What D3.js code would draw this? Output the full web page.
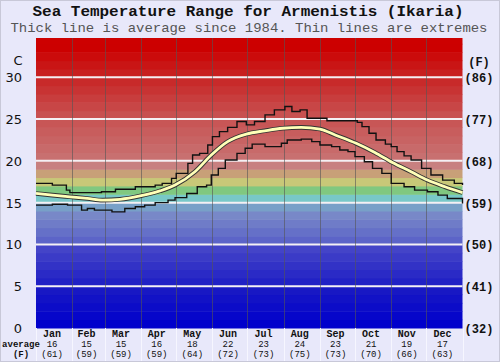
<!DOCTYPE html>
<html>
<head>
<meta charset="utf-8">
<script src="https://cdn.jsdelivr.net/npm/d3@7"></script>
<style>
  body { margin: 0; background: #e8e8fa; }
  svg { display: block; }
</style>
</head>
<body>
<svg id="chart" width="500" height="362"></svg>
<script>
// month info
const months = ["Jan","Feb","Mar","Apr","May","Jun","Jul","Aug","Sep","Oct","Nov","Dec"];
const monthStarts = [0,31,59,90,120,151,181,212,243,273,304,334,365];
const monthAvgC = [16,15,15,16,18,22,23,24,23,21,19,17];
const monthAvgF = [61,59,59,59,64,72,73,75,73,70,66,63];

// y ticks
const cTicks = [0,5,10,15,20,25,30];
const fTicks = [32,41,50,59,68,77,86];

// average since 1984 (day of year, deg C)
const avgDays = [0,14,29,44,57,72,89,106,119,136,150,164,180,196,211,227,243,256,274,290,305,321,335,350,365];
const avgTemps = [16.1,15.9,15.7,15.5,15.3,15.4,15.8,16.4,17.1,18.7,20.7,22.3,23.2,23.6,23.9,24.0,23.8,23.1,22.1,21.0,19.8,18.7,17.7,16.9,16.2];

// highest recorded
const maxDays = [0,14,26,29,56,68,85,102,108,116,120,130,134,140,147,151,157,164,172,180,187,196,204,213,219,226,232,249,275,279,285,291,299,304,309,315,321,330,338,348,358,365];
const maxTemps = [17.3,17.1,16.5,16.2,16.3,16.6,16.9,17.1,17.3,17.9,18.5,19.7,20.7,20.9,21.9,22.9,23.5,24.0,24.7,24.3,24.7,25.5,26.1,26.5,25.9,26.1,25.1,24.8,24.6,24.1,23.3,22.5,22.0,21.7,21.1,20.6,20.1,19.1,18.3,17.7,17.3,17.1];

// lowest recorded
const minDays = [0,14,27,39,44,50,65,76,85,93,102,113,119,129,138,146,150,156,162,172,179,185,196,210,215,227,236,243,253,260,267,273,281,288,296,304,315,324,335,344,352,365];
const minTemps = [14.7,14.8,14.7,14.1,14.3,14.1,13.9,14.3,14.5,14.7,15.0,15.3,15.6,16.1,16.9,17.1,18.3,19.1,20.1,20.9,21.5,22.0,21.7,22.1,22.5,22.6,22.3,21.9,21.7,21.3,21.1,20.5,19.9,19.1,18.5,17.3,16.9,16.5,16.3,15.9,15.5,14.9];

const svg = d3.select("#chart");
const W = 500, H = 362;
const plot = { left: 36, right: 462.5, top: 38, bottom: 328 };

const x = d3.scaleLinear().domain([0, 365]).range([plot.left, plot.right]);
const y = d3.scaleLinear().domain([0, 34.7]).range([plot.bottom, plot.top]);

const bandColor = d3.scaleLinear()
  .domain([0, 4, 9, 10, 13, 14, 15, 16, 17, 18, 19, 20, 25, 30, 33])
  .range(["#0000cc","#1818c4","#4444c8","#5c64c8","#7888c8","#78a0c8","#78c8c8","#80c880",
          "#c8c878","#c8a078","#c88080","#c87070","#c85050","#c82020","#cc0000"]);

svg.append("rect").attr("width", W).attr("height", H).attr("fill", "#e8e8fa");

// one degree colour bands
svg.append("g")
  .selectAll("rect")
  .data(d3.range(0, 35))
  .join("rect")
  .attr("x", plot.left)
  .attr("width", plot.right - plot.left)
  .attr("y", d => y(Math.min(d + 1, 34.7)))
  .attr("height", d => y(d) - y(Math.min(d + 1, 34.7)) + 0.5)
  .attr("fill", d => bandColor(d));

// white lines every 5 degrees
svg.append("g")
  .selectAll("line")
  .data(cTicks.filter(d => d > 0))
  .join("line")
  .attr("x1", plot.left).attr("x2", plot.right)
  .attr("y1", d => y(d)).attr("y2", d => y(d))
  .attr("stroke", "#f4f0f4")
  .attr("stroke-width", 2);

// month separators
svg.append("g")
  .selectAll("line")
  .data(monthStarts.slice(1, 12))
  .join("line")
  .attr("x1", d => Math.round(x(d)) + 0.5).attr("x2", d => Math.round(x(d)) + 0.5)
  .attr("y1", plot.top).attr("y2", plot.bottom)
  .attr("stroke", "#555")
  .attr("stroke-opacity", 0.6)
  .attr("stroke-width", 1);

// faint separators under the plot
svg.append("g")
  .selectAll("line")
  .data(monthStarts)
  .join("line")
  .attr("x1", d => Math.round(x(d)) + 0.5).attr("x2", d => Math.round(x(d)) + 0.5)
  .attr("y1", plot.bottom).attr("y2", H)
  .attr("stroke", "#f6f6ff")
  .attr("stroke-width", 1);

const stepLine = d3.line()
  .x(d => x(d[0]))
  .y(d => y(d[1]))
  .curve(d3.curveStepAfter);

const smoothLine = d3.line()
  .x(d => x(d[0]))
  .y(d => y(d[1]))
  .curve(d3.curveMonotoneX);

const maxPts = d3.zip(maxDays, maxTemps);
const minPts = d3.zip(minDays, minTemps);
const avgPts = d3.zip(avgDays, avgTemps);

[maxPts, minPts].forEach(pts => {
  svg.append("path")
    .attr("d", stepLine(pts))
    .attr("fill", "none")
    .attr("stroke", "#111")
    .attr("stroke-width", 1.4);
});

svg.append("path")
  .attr("d", smoothLine(avgPts))
  .attr("fill", "none")
  .attr("stroke", "#333")
  .attr("stroke-width", 4.6);

svg.append("path")
  .attr("d", smoothLine(avgPts))
  .attr("fill", "none")
  .attr("stroke", "#ffffb8")
  .attr("stroke-width", 2.8);

// titles
svg.append("text")
  .attr("x", 248).attr("y", 16)
  .attr("text-anchor", "middle")
  .attr("textLength", 431)
  .attr("lengthAdjust", "spacingAndGlyphs")
  .style("font", "bold 15px 'Liberation Mono', monospace")
  .attr("fill", "#111")
  .text("Sea Temperature Range for Armenistis (Ikaria)");

svg.append("text")
  .attr("x", 249).attr("y", 32)
  .attr("text-anchor", "middle")
  .attr("textLength", 477)
  .attr("lengthAdjust", "spacingAndGlyphs")
  .style("font", "13px 'Liberation Mono', monospace")
  .attr("fill", "#555")
  .text("Thick line is average since 1984. Thin lines are extremes");

// left axis (C)
svg.append("g")
  .selectAll("text")
  .data(cTicks)
  .join("text")
  .attr("x", 22).attr("y", d => y(d) + 5)
  .attr("text-anchor", "end")
  .style("font", "13px 'DejaVu Sans', sans-serif")
  .attr("fill", "#111")
  .text(d => d);

svg.append("text")
  .attr("x", 18).attr("y", 65)
  .attr("text-anchor", "middle")
  .style("font", "13px 'DejaVu Sans', sans-serif")
  .attr("fill", "#111")
  .text("C");

// right axis (F)
svg.append("g")
  .selectAll("text")
  .data(fTicks)
  .join("text")
  .attr("x", 479).attr("y", (d, i) => y(cTicks[i]) + 5)
  .attr("text-anchor", "middle")
  .style("font", "bold 12px 'Liberation Mono', monospace")
  .attr("fill", "#111")
  .text(d => `(${d})`);

svg.append("text")
  .attr("x", 479).attr("y", 66)
  .attr("text-anchor", "middle")
  .style("font", "bold 12px 'Liberation Mono', monospace")
  .attr("fill", "#111")
  .text("(F)");

// month labels with averages
const labels = svg.append("g")
  .selectAll("g")
  .data(months)
  .join("g")
  .attr("transform", (d, i) => `translate(${x((monthStarts[i] + monthStarts[i + 1]) / 2) - 2},0)`);

labels.append("text")
  .attr("y", 337)
  .attr("text-anchor", "middle")
  .style("font", "bold 10px 'Liberation Mono', monospace")
  .attr("fill", "#111")
  .text(d => d);

labels.append("text")
  .attr("y", 347)
  .attr("text-anchor", "middle")
  .style("font", "9px 'Liberation Mono', monospace")
  .attr("fill", "#111")
  .text((d, i) => monthAvgC[i]);

labels.append("text")
  .attr("y", 357)
  .attr("text-anchor", "middle")
  .style("font", "9px 'Liberation Mono', monospace")
  .attr("fill", "#111")
  .text((d, i) => `(${monthAvgF[i]})`);

svg.append("text")
  .attr("x", 21).attr("y", 347)
  .attr("text-anchor", "middle")
  .style("font", "bold 9px 'Liberation Mono', monospace")
  .attr("fill", "#111")
  .text("average");

svg.append("text")
  .attr("x", 21).attr("y", 357)
  .attr("text-anchor", "middle")
  .style("font", "bold 9px 'Liberation Mono', monospace")
  .attr("fill", "#111")
  .text("(F)");

svg.append("rect")
  .attr("x", 0.5).attr("y", 0.5)
  .attr("width", W - 1).attr("height", H - 1)
  .attr("fill", "none")
  .attr("stroke", "#c8c8d8");
</script>
</body>
</html>
